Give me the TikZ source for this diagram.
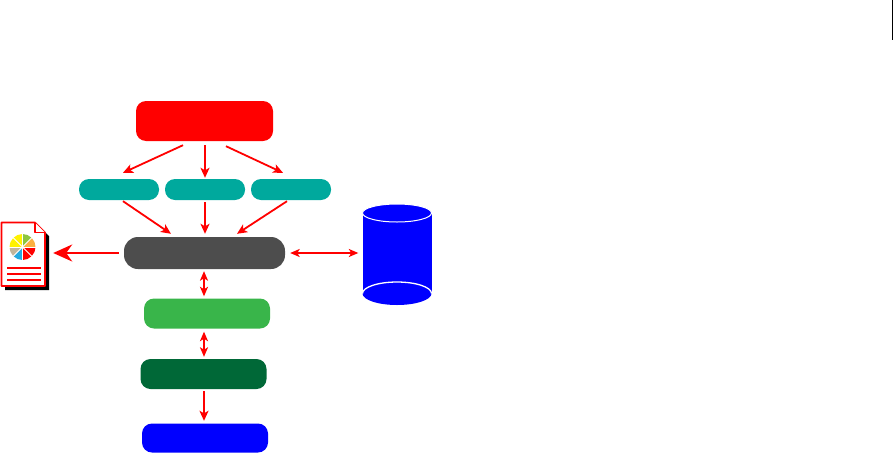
\documentclass[tikz,border=0pt]{standalone}
\usetikzlibrary{arrows.meta}
\definecolor{tealbox}{HTML}{00A99D}
\definecolor{graybox}{HTML}{4D4D4D}
\definecolor{greenbox}{HTML}{39B54A}
\definecolor{darkbox}{HTML}{006837}
\definecolor{pieyellow}{HTML}{FFF200}
\definecolor{piegreen}{HTML}{8DC63F}
\definecolor{pieorange}{HTML}{FBB040}
\definecolor{pieblue}{HTML}{27AAE1}
\definecolor{pietan}{HTML}{C2B59B}
\tikzset{
	box/.style={rounded corners=10pt, inner sep=0pt, minimum width=#1},
	flow/.style={-{Stealth[length=10pt,width=9pt,inset=2.5pt]}, line width=1.8pt, red},
	flowboth/.style={{Stealth[length=9.5pt,width=8pt,inset=2.5pt]}-{Stealth[length=9.5pt,width=8pt,inset=2.5pt]}, line width=1.8pt, red},
	flowbig/.style={-{Stealth[length=19pt,width=17pt,inset=6pt]}, line width=1.8pt, red}
}
\begin{document}
\begin{tikzpicture}[x=1pt,y=-1pt]
	\useasboundingbox (0,0) rectangle (893,455);
	\draw[line width=1pt] (892.5,0) -- (892.5,40);
	% boxes
	\node[box=137pt, minimum height=40pt, fill=red] (source) at (204.5,121) {};
	\node[box=80pt, minimum height=21pt, fill=tealbox] (inleft) at (119,189.5) {};
	\node[box=80pt, minimum height=21pt, fill=tealbox] (inmid) at (205,189.5) {};
	\node[box=80pt, minimum height=21pt, fill=tealbox] (inright) at (291,189.5) {};
	\node[box=161pt, minimum height=32pt, rounded corners=14pt, fill=graybox] (core) at (204.5,253) {};
	\node[box=126pt, minimum height=30pt, fill=greenbox] (upper) at (207,313.5) {};
	\node[box=126pt, minimum height=30pt, fill=darkbox] (lower) at (203.5,374) {};
	\node[box=126pt, minimum height=29pt, fill=blue] (output) at (205,438) {};
	% storage
	\node[fill=blue, inner sep=0pt, minimum width=69pt, minimum height=80pt] (store) at (397,253) {};
	\draw[white, line width=1pt, fill=blue] (397,213) ellipse (34.5pt and 9pt);
	\fill[blue] (397,293.5) ellipse (34.5pt and 11.5pt);
	\draw[white, line width=1.3pt] (362.5,293.5) arc (180:0:34.5pt and 11.5pt);
	% report
	\node[inner sep=0pt, minimum width=44pt, minimum height=64pt] (report) at (23,253) {};
	\fill[black] (5,226) -- (39,226) -- (49,236) -- (49,290) -- (5,290) -- cycle;
	\draw[red, line width=1.7pt, fill=white, line join=round] (1.5,222.5) -- (35,222.5) -- (45,232.5) -- (45,286) -- (1.5,286) -- cycle;
	\draw[red, line width=1.2pt, fill=white, line join=round] (35,222.5) -- (35,232.5) -- (45,232.5);
	\foreach \a/\c in {0/piegreen, 45/pieorange, 90/red, 135/red, 180/pieblue, 225/pietan, 270/pieyellow, 315/pieyellow} {
		\fill[\c] (22.5,247) -- +(\a-90:13pt and -13pt) arc[start angle=\a-90, end angle=\a-45, radius=13pt, y radius=-13pt] -- cycle;
	}
	\foreach \a in {0,45,...,315} { \draw[white, line width=0.8pt] (22.5,247) -- +(\a:13.5pt); }
	\foreach \y in {267.7,273.7,280} { \draw[red, line width=1.8pt] (7,\y) -- (41,\y); }
	% connectors
	\draw[flow] ([xshift=-21.5pt,yshift=-4pt]source.south) -- ([xshift=4pt,yshift=6pt]inleft.north);
	\draw[flow] ([xshift=0.5pt,yshift=-4pt]source.south) -- ([yshift=1pt]inmid.north);
	\draw[flow] ([xshift=21.5pt,yshift=-5pt]source.south) -- ([xshift=-8pt,yshift=6pt]inright.north);
	\draw[flow] ([xshift=4pt,yshift=-1pt]inleft.south) -- ([xshift=-33.5pt,yshift=3pt]core.north);
	\draw[flow] ([yshift=-2pt]inmid.south) -- ([xshift=0.5pt,yshift=3pt]core.north);
	\draw[flow] ([xshift=-4pt,yshift=-1pt]inright.south) -- ([xshift=32.5pt,yshift=3pt]core.north);
	\draw[flowbig] ([xshift=-5pt]core.west) -- ([xshift=8pt]report.east);
	\draw[flowboth] ([xshift=5pt]core.east) -- ([xshift=-4pt]store.west);
	\draw[flowboth] ([xshift=-0.5pt,yshift=-2pt]core.south) -- ([xshift=-3pt,yshift=2pt]upper.north);
	\draw[flowboth] ([xshift=-3pt,yshift=-3pt]upper.south) -- ([xshift=0.5pt,yshift=2pt]lower.north);
	\draw[flow] ([xshift=0.5pt,yshift=-2pt]lower.south) -- ([xshift=-1pt,yshift=2.5pt]output.north);
\end{tikzpicture}
\end{document}
